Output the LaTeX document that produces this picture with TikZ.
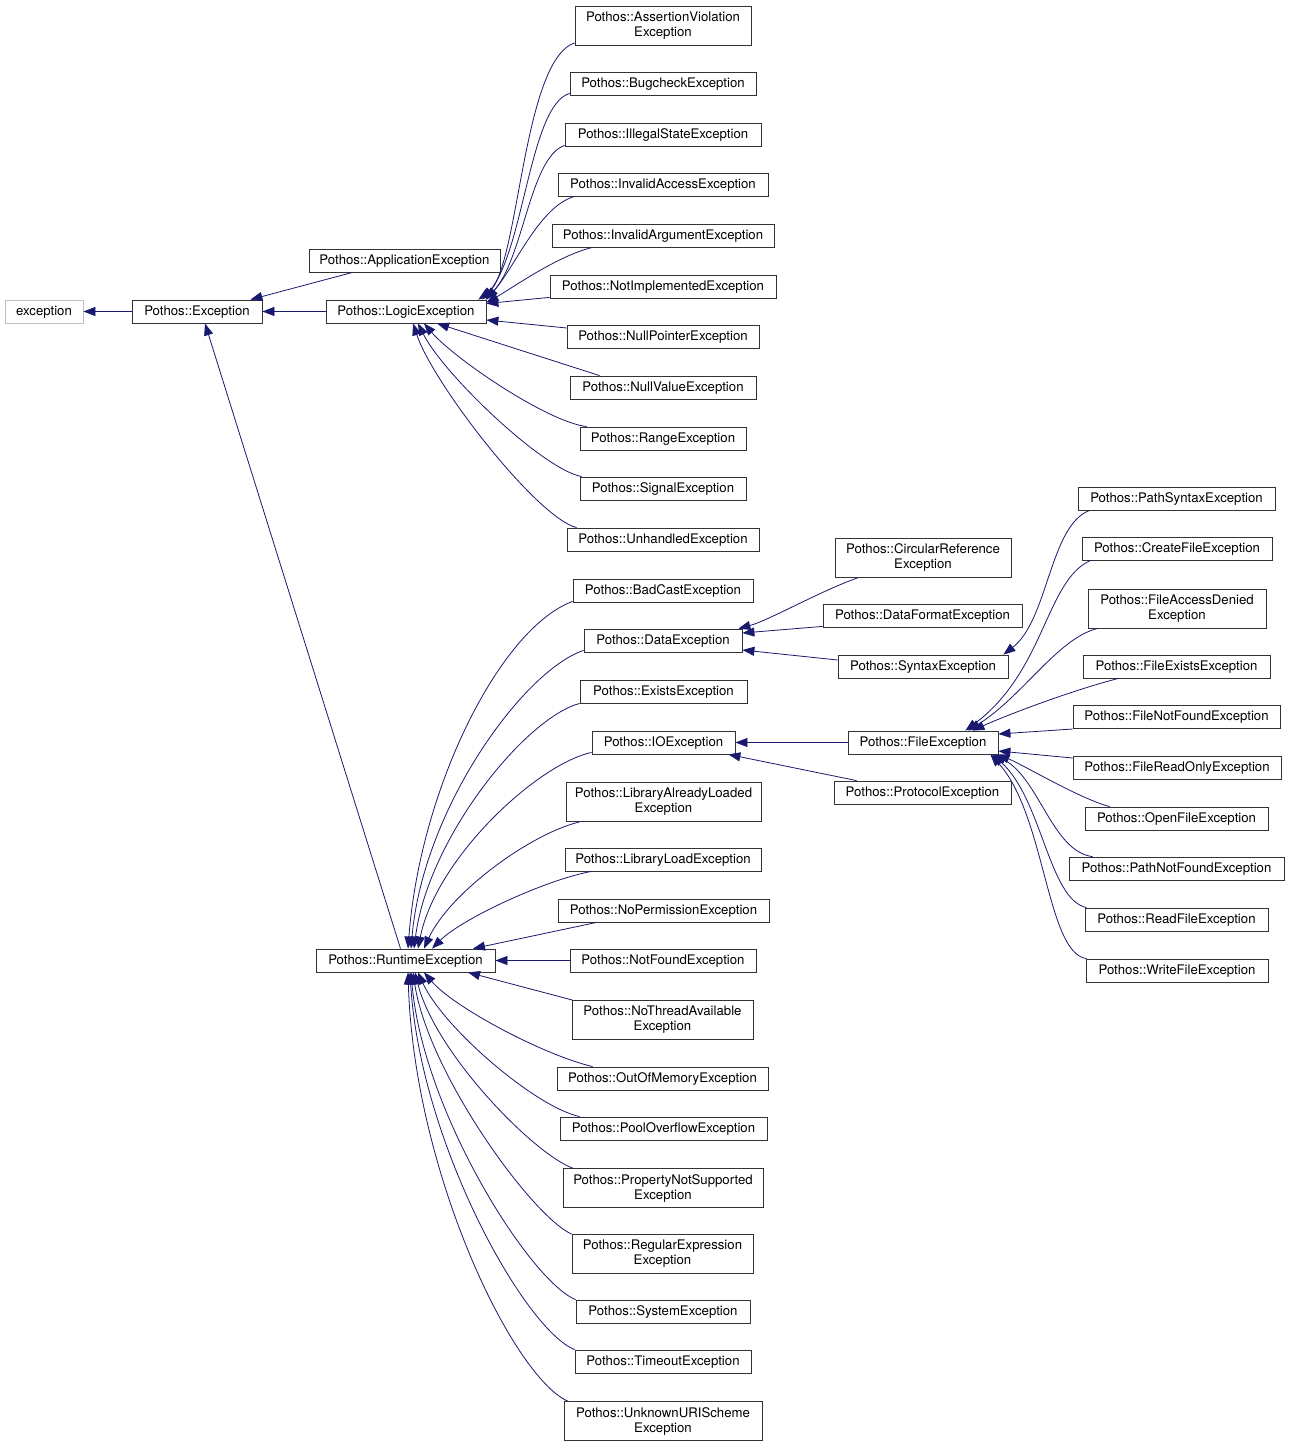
\documentclass[tikz,border=0pt]{standalone}
\usepackage{fontspec}
\usepackage{xcolor}
\usepackage{tikz}
\usetikzlibrary{arrows.meta}
\newfontfamily\dxfont{TeX Gyre Heros}
\definecolor{edgeblue}{HTML}{191970}

\begin{document}
\begin{tikzpicture}[x=1pt, y=-1pt,
    box/.style={draw=black!80, line width=0.8pt, fill=white, align=center,
        font={\dxfont\fontsize{13.2}{15}\selectfont}, inner xsep=3pt, inner ysep=0pt},
    cls/.style={box, minimum height=23pt, text height=9.5pt, text depth=1.5pt},
    twoline/.style={box, minimum height=39pt},
    extcls/.style={cls, draw=black!25},
    edge/.style={draw=edgeblue, line width=0.8pt, -{Triangle[length=12pt, width=9pt]}}]
    \useasboundingbox[fill=white] (0,0) rectangle (1289,1448);
    % base classes
    \node[extcls, minimum width=78pt] (stdexc) at (44,311.5) {exception};
    \node[cls, minimum width=130pt] (exc) at (197,311.5) {Pothos::Exception};
    \node[cls, minimum width=191pt] (app) at (404.5,260.5) {Pothos::ApplicationException};
    \node[cls, minimum width=160pt] (logic) at (406,311.5) {Pothos::LogicException};
    \node[cls, minimum width=179pt] (runtime) at (405.5,960.5) {Pothos::RuntimeException};
    % logic children
    \node[twoline, minimum width=176pt] (assert) at (663,26) {Pothos::AssertionViolation\\Exception};
    \node[cls, minimum width=186pt] (bug) at (663,83.5) {Pothos::BugcheckException};
    \node[cls, minimum width=196pt] (illegal) at (663,134.5) {Pothos::IllegalStateException};
    \node[cls, minimum width=210pt] (access) at (663,184.5) {Pothos::InvalidAccessException};
    \node[cls, minimum width=222pt] (argument) at (663,235.5) {Pothos::InvalidArgumentException};
    \node[cls, minimum width=226pt] (notimpl) at (663,286.5) {Pothos::NotImplementedException};
    \node[cls, minimum width=192pt] (nullptr) at (663,336.5) {Pothos::NullPointerException};
    \node[cls, minimum width=186pt] (nullval) at (663,387.5) {Pothos::NullValueException};
    \node[cls, minimum width=166pt] (range) at (663,438.5) {Pothos::RangeException};
    \node[cls, minimum width=166pt] (signal) at (663,488.5) {Pothos::SignalException};
    \node[cls, minimum width=192pt] (unhandled) at (663,539.5) {Pothos::UnhandledException};
    % runtime children
    \node[cls, minimum width=180pt] (badcast) at (663,590.5) {Pothos::BadCastException};
    \node[cls, minimum width=158pt] (data) at (663,640.5) {Pothos::DataException};
    \node[cls, minimum width=167pt] (exists) at (663.5,691.5) {Pothos::ExistsException};
    \node[cls, minimum width=143pt] (io) at (663.5,742.5) {Pothos::IOException};
    \node[twoline, minimum width=195pt] (libalready) at (663.5,802) {Pothos::LibraryAlreadyLoaded\\Exception};
    \node[cls, minimum width=196pt] (libload) at (663,859.5) {Pothos::LibraryLoadException};
    \node[cls, minimum width=211pt] (noperm) at (663.5,910.5) {Pothos::NoPermissionException};
    \node[cls, minimum width=186pt] (notfound) at (663,960.5) {Pothos::NotFoundException};
    \node[twoline, minimum width=181pt] (nothread) at (662.5,1020) {Pothos::NoThreadAvailable\\Exception};
    \node[cls, minimum width=211pt] (oom) at (662.5,1078.5) {Pothos::OutOfMemoryException};
    \node[cls, minimum width=207pt] (pool) at (663.5,1128.5) {Pothos::PoolOverflowException};
    \node[twoline, minimum width=200pt] (property) at (663,1188) {Pothos::PropertyNotSupported\\Exception};
    \node[twoline, minimum width=181pt] (regex) at (662.5,1254) {Pothos::RegularExpression\\Exception};
    \node[cls, minimum width=174pt] (system) at (663,1311.5) {Pothos::SystemException};
    \node[cls, minimum width=176pt] (timeout) at (663,1361.5) {Pothos::TimeoutException};
    \node[twoline, minimum width=198pt] (unknown) at (663,1421) {Pothos::UnknownURIScheme\\Exception};
    % data and io children
    \node[twoline, minimum width=176pt] (circular) at (923,558) {Pothos::CircularReference\\Exception};
    \node[cls, minimum width=199pt] (dataformat) at (922.5,615.5) {Pothos::DataFormatException};
    \node[cls, minimum width=170pt] (syntax) at (923,666.5) {Pothos::SyntaxException};
    \node[cls, minimum width=150pt] (file) at (923,742.5) {Pothos::FileException};
    \node[cls, minimum width=177pt] (protocol) at (922.5,792.5) {Pothos::ProtocolException};
    % syntax and file children
    \node[cls, minimum width=197pt] (pathsyntax) at (1176.5,498.5) {Pothos::PathSyntaxException};
    \node[cls, minimum width=190pt] (createfile) at (1177,548.5) {Pothos::CreateFileException};
    \node[twoline, minimum width=178pt] (denied) at (1177,608.5) {Pothos::FileAccessDenied\\Exception};
    \node[cls, minimum width=187pt] (fileexists) at (1176.5,666.5) {Pothos::FileExistsException};
    \node[cls, minimum width=207pt] (filenotfound) at (1176.5,716.5) {Pothos::FileNotFoundException};
    \node[cls, minimum width=208pt] (readonly) at (1177,767.5) {Pothos::FileReadOnlyException};
    \node[cls, minimum width=183pt] (openfile) at (1176.5,818.5) {Pothos::OpenFileException};
    \node[cls, minimum width=215pt] (pathnotfound) at (1176.5,868.5) {Pothos::PathNotFoundException};
    \node[cls, minimum width=183pt] (readfile) at (1176.5,919.5) {Pothos::ReadFileException};
    \node[cls, minimum width=182pt] (writefile) at (1177,970.5) {Pothos::WriteFileException};
    % base edges
    \draw[edge] (exc.west) -- (stdexc.east);
    \draw[edge] (logic.west) -- (exc.east);
    \draw[edge] ([xshift=44pt]app.south west) -- ([xshift=-12pt]exc.north east);
    \draw[edge] ([xshift=-5pt]runtime.north) -- ([xshift=8pt]exc.south);
    % edges to logic
    \draw[edge] ([yshift=3pt]assert.south west) .. controls +(-53,18) and +(41,-29) .. ([xshift=-8pt]logic.north east);
    \draw[edge] ([yshift=2pt]bug.south west) .. controls +(-40,12) and +(42,-50) .. ([xshift=-4pt]logic.north east);
    \draw[edge] ([yshift=1pt]illegal.south west) .. controls +(-35,12) and +(38,-40) .. ([xshift=-1pt]logic.north east);
    \draw[edge] ([xshift=17pt]access.south west) .. controls +(-35,10) and +(30,-35) .. (logic.north east);
    \draw[edge] ([xshift=41pt]argument.south west) .. controls +(-35,8) and +(22,-12) .. ([yshift=9pt]logic.east);
    \draw[edge] ([yshift=1pt]notimpl.south west) -- ([yshift=8pt]logic.east);
    \draw[edge] ([yshift=8.5pt]nullptr.west) -- ([yshift=-8.5pt]logic.east);
    \draw[edge] ([xshift=30pt]nullval.north west) -- ([xshift=31pt]logic.south);
    \draw[edge] ([xshift=7pt]range.north west) .. controls +(-40,-5) and +(30,35) .. ([xshift=18pt]logic.south);
    \draw[edge] ([xshift=2pt]signal.north west) .. controls +(-40,-8) and +(25,50) .. ([xshift=12pt]logic.south);
    \draw[edge] ([xshift=10pt]unhandled.north west) .. controls +(-40,-10) and +(20,60) .. ([xshift=7pt]logic.south);
    % edges to runtime
    \draw[edge] ([yshift=1pt]badcast.south west) .. controls +(-73,27) and +(12,-159) .. ([xshift=2.5pt]runtime.north);
    \draw[edge] ([yshift=2pt]data.south west) .. controls +(-60,20) and +(12,-140) .. ([xshift=5.5pt]runtime.north);
    \draw[edge] (exists.south west) .. controls +(-55,15) and +(14,-110) .. ([xshift=8.5pt]runtime.north);
    \draw[edge] ([yshift=2pt]io.south west) .. controls +(-55,12) and +(18,-90) .. ([xshift=12.5pt]runtime.north);
    \draw[edge] ([xshift=14pt]libalready.south west) .. controls +(-50,12) and +(25,-55) .. ([xshift=18.5pt]runtime.north);
    \draw[edge] ([xshift=27pt]libload.south west) .. controls +(-45,8) and +(30,-30) .. ([xshift=26.5pt]runtime.north);
    \draw[edge] ([xshift=39pt]noperm.south west) -- ([xshift=67.5pt]runtime.north);
    \draw[edge] (notfound.west) -- (runtime.east);
    \draw[edge] ([xshift=1pt]nothread.north west) -- ([xshift=62.5pt]runtime.south);
    \draw[edge] ([xshift=36pt]oom.north west) .. controls +(-50,-12) and +(30,35) .. ([xshift=18.5pt]runtime.south);
    \draw[edge] ([xshift=20pt]pool.north west) .. controls +(-45,-10) and +(25,55) .. ([xshift=12.5pt]runtime.south);
    \draw[edge] ([xshift=10pt]property.north west) .. controls +(-40,-15) and +(20,80) .. ([xshift=9.5pt]runtime.south);
    \draw[edge] (regex.north west) .. controls +(-40,-18) and +(15,100) .. ([xshift=7.5pt]runtime.south);
    \draw[edge] (system.north west) .. controls +(-45,-18) and +(12,140) .. ([xshift=5.5pt]runtime.south);
    \draw[edge] (timeout.north west) .. controls +(-50,-20) and +(10,170) .. ([xshift=4.5pt]runtime.south);
    \draw[edge] ([xshift=4pt]unknown.north west) .. controls +(-55,-25) and +(6,200) .. ([xshift=2.5pt]runtime.south);
    % edges to data and io
    \draw[edge] ([xshift=23pt]circular.south west) .. controls +(-35,12) and +(30,-8) .. ([xshift=-4pt]data.north east);
    \draw[edge] ([yshift=1pt]dataformat.south west) -- ([yshift=7.5pt]data.east);
    \draw[edge] ([yshift=6.5pt]syntax.west) -- ([yshift=-9.5pt]data.east);
    \draw[edge] (file.west) -- (io.east);
    \draw[edge] ([xshift=23pt]protocol.north west) -- ([xshift=-7pt]io.south east);
    % edges to syntax and file
    \draw[edge] ([xshift=12pt]pathsyntax.south west) .. controls +(-40,15) and +(45,-35) .. ([xshift=-5pt]syntax.north east);
    \draw[edge] ([xshift=9pt]createfile.south west) .. controls +(-45,20) and +(80,-60) .. ([xshift=-33pt]file.north east);
    \draw[edge] ([xshift=10pt]denied.south west) .. controls +(-40,10) and +(55,-35) .. ([xshift=-30pt]file.north east);
    \draw[edge] ([xshift=36pt]fileexists.south west) .. controls +(-40,10) and +(40,-18) .. ([xshift=-26pt]file.north east);
    \draw[edge] ([yshift=-12.5pt]filenotfound.west) -- ([yshift=8.5pt]file.east);
    \draw[edge] ([yshift=9.5pt]readonly.west) -- ([yshift=-8.5pt]file.east);
    \draw[edge] ([xshift=25pt]openfile.north west) .. controls +(-30,-8) and +(25,10) .. ([xshift=-1pt]file.south east);
    \draw[edge] ([xshift=24pt]pathnotfound.north west) .. controls +(-40,-5) and +(45,25) .. ([xshift=-4pt]file.south east);
    \draw[edge] ([xshift=2pt]readfile.north west) .. controls +(-38,-8) and +(50,45) .. ([xshift=-6pt]file.south east);
    \draw[edge] ([xshift=1pt]writefile.north west) .. controls +(-40,-5) and +(55,60) .. ([xshift=-8pt]file.south east);
\end{tikzpicture}
\end{document}
